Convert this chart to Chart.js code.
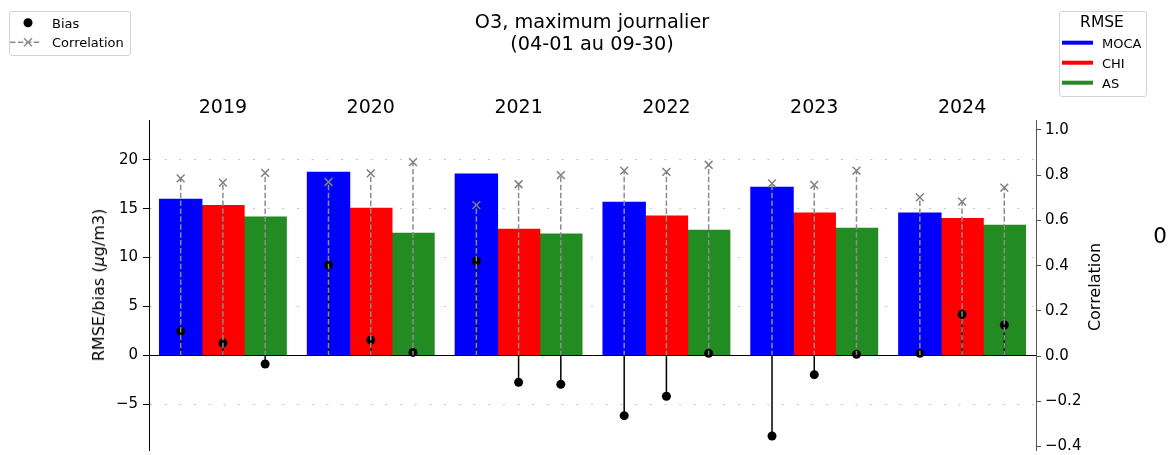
<!DOCTYPE html>
<html>
<head>
<meta charset="utf-8">
<script src="https://cdn.jsdelivr.net/npm/chart.js@4.4.1/dist/chart.umd.min.js"></script>
<style>
  body { margin: 0; background: #fff; }
  #wrap { position: relative; width: 1175px; height: 455px; font-family: 'DejaVu Sans', sans-serif; color: #000; overflow: hidden; }
  #c { position: absolute; left: 0; top: 0; }
  .t { position: absolute; white-space: nowrap; line-height: 1; transform: translate(-50%, -50%); }
  .l { position: absolute; white-space: nowrap; line-height: 1; transform: translateY(-50%); }
  .rot { position: absolute; white-space: nowrap; line-height: 1; transform: translate(-50%, -50%) rotate(-90deg); }
  .box { position: absolute; border: 1px solid #d3d3d3; border-radius: 3px; background: rgba(255,255,255,0.8); box-sizing: border-box; }
  svg { position: absolute; overflow: visible; }
</style>
</head>
<body>
<div id="wrap">
  <canvas id="c" width="1175" height="455"></canvas>

  <!-- title -->
  <div class="t" style="left:592px;top:22px;font-size:19.3px;">O3, maximum journalier</div>
  <div class="t" style="left:592px;top:44px;font-size:19.3px;">(04-01 au 09-30)</div>

  <!-- axis titles -->
  <div class="rot" style="left:99px;top:285px;font-size:16px;">RMSE/bias (<i>μ</i>g/m3)</div>
  <div class="rot" style="left:1095px;top:287px;font-size:16px;">Correlation</div>

  <!-- marker legend -->
  <div class="box" style="left:9px;top:11px;width:122px;height:45px;"></div>
  <svg width="1" height="1" style="left:0;top:0;">
    <circle cx="28" cy="22.7" r="4.5" fill="#000"/>
    <line x1="10" y1="42.3" x2="41" y2="42.3" stroke="#8c8c8c" stroke-width="1.5" stroke-dasharray="5.5 2.4"/>
    <path d="M24 38.3 L32 46.3 M24 46.3 L32 38.3" stroke="#8c8c8c" stroke-width="1.5"/>
  </svg>
  <div class="l" style="left:52px;top:22.7px;font-size:13px;">Bias</div>
  <div class="l" style="left:52px;top:42.3px;font-size:13px;">Correlation</div>

  <!-- RMSE legend -->
  <div class="box" style="left:1059px;top:11px;width:88px;height:86px;"></div>
  <div class="t" style="left:1102px;top:22.7px;font-size:15.5px;">RMSE</div>
  <svg width="1" height="1" style="left:0;top:0;">
    <line x1="1062" y1="42.7" x2="1093" y2="42.7" stroke="#0000ff" stroke-width="4"/>
    <line x1="1062" y1="62.7" x2="1093" y2="62.7" stroke="#ff0000" stroke-width="4"/>
    <line x1="1062" y1="82.7" x2="1093" y2="82.7" stroke="#228b22" stroke-width="4"/>
  </svg>
  <div class="l" style="left:1102px;top:42.7px;font-size:13px;">MOCA</div>
  <div class="l" style="left:1102px;top:62.7px;font-size:13px;">CHI</div>
  <div class="l" style="left:1102px;top:82.7px;font-size:13px;">AS</div>

  <div class="t" style="left:1160px;top:236px;font-size:21.5px;">0</div>
</div>

<script>
// Years (one group of bars per year)
const years = ['2019', '2020', '2021', '2022', '2023', '2024'];

// RMSE (µg/m3) per model
const rmseMOCA = [15.95, 18.71, 18.54, 15.64, 17.18, 14.55];
const rmseCHI  = [15.30, 15.03, 12.88, 14.24, 14.55, 13.97];
const rmseAS   = [14.14, 12.47, 12.40, 12.78, 12.98, 13.29];

// Bias (µg/m3) per model
const biasMOCA = [2.48, 9.23, 9.64, -6.17, -8.25, 0.20];
const biasCHI  = [1.26, 1.56, -2.76, -4.19, -1.98, 4.19];
const biasAS   = [-0.89, 0.30, -2.97, 0.20, 0.10, 3.10];

// Correlation per model
const corrMOCA = [0.786, 0.770, 0.668, 0.820, 0.764, 0.702];
const corrCHI  = [0.767, 0.808, 0.760, 0.815, 0.757, 0.683];
const corrAS   = [0.810, 0.858, 0.800, 0.846, 0.820, 0.745];

// Axis ticks
const leftTicks  = [-5, 0, 5, 10, 15, 20];
const rightTicks = [-0.4, -0.2, 0.0, 0.2, 0.4, 0.6, 0.8, 1.0];

const FONT = "'DejaVu Sans', sans-serif";
const CAT_PCT = 0.857;               // share of each year slot taken by its three bars
const groupOffsets = [-1, 0, 1].map(k => k * CAT_PCT / 3);  // bar centres relative to the year

// Bars sit on the year index of the shared x scale
const barPoints = vals => vals.map((v, i) => ({ x: i, y: v }));

// Lollipop stems: (x,0) -> (x,value), then a gap before the next stem
function stems(seriesList) {
  const pts = [];
  seriesList.forEach((vals, k) => {
    vals.forEach((v, i) => {
      const x = i + groupOffsets[k];
      pts.push({ x, y: 0 });
      pts.push({ x, y: v, tip: true });
      pts.push({ x, y: null });
    });
  });
  return pts;
}

const minus = v => (v < 0 ? '\u2212' : '');

// vertical axes: no extra room reserved for the end tick labels
const noEndPadding = s => { s.paddingTop = 0; s.paddingBottom = 0; };

const zeroLine = {
  id: 'zeroLine',
  afterDatasetsDraw(chart) {
    const { ctx, chartArea, scales } = chart;
    const py = Math.round(scales.y.getPixelForValue(0)) + 0.5;
    ctx.save();
    ctx.strokeStyle = '#000';
    ctx.lineWidth = 1;
    ctx.beginPath();
    ctx.moveTo(chartArea.left, py);
    ctx.lineTo(chartArea.right, py);
    ctx.stroke();
    ctx.restore();
  }
};

const barCommon = {
  yAxisID: 'y', xAxisID: 'x', categoryPercentage: CAT_PCT, barPercentage: 1.0,
  borderWidth: 0, inflateAmount: 0.6, order: 3
};

new Chart(document.getElementById('c'), {
  data: {
    datasets: [
      { type: 'bar', label: 'MOCA', data: barPoints(rmseMOCA), backgroundColor: '#0000ff', ...barCommon },
      { type: 'bar', label: 'CHI',  data: barPoints(rmseCHI),  backgroundColor: '#ff0000', ...barCommon },
      { type: 'bar', label: 'AS',   data: barPoints(rmseAS),   backgroundColor: '#228b22', ...barCommon },
      {
        type: 'line', label: 'Bias', xAxisID: 'x', yAxisID: 'y', order: 2,
        data: stems([biasMOCA, biasCHI, biasAS]),
        borderColor: '#000', borderWidth: 1.5, spanGaps: false,
        pointRadius: c => (c.raw && c.raw.tip ? 4.5 : 0),
        pointBackgroundColor: '#000', pointBorderColor: '#000', pointBorderWidth: 0,
        pointHoverRadius: 0
      },
      {
        type: 'line', label: 'Correlation', xAxisID: 'x', yAxisID: 'y2', order: 1,
        data: stems([corrMOCA, corrCHI, corrAS]),
        borderColor: '#8c8c8c', borderWidth: 1.5, borderDash: [5.5, 2.4], spanGaps: false,
        pointStyle: 'crossRot',
        pointRadius: c => (c.raw && c.raw.tip ? 5.5 : 0),
        pointBorderColor: '#808080', pointBorderWidth: 1.5,
        pointHoverRadius: 0
      }
    ]
  },
  options: {
    indexAxis: 'x',
    responsive: false,
    animation: false,
    devicePixelRatio: 1,
    layout: { padding: { left: 0, right: 0, top: 0, bottom: 5 } },
    plugins: { legend: { display: false }, tooltip: { enabled: false }, title: { display: false } },
    events: [],
    scales: {
      x: {
        type: 'linear', position: 'top', min: -0.5, max: 5.5, offset: false,
        afterBuildTicks: s => { s.ticks = years.map((_, i) => ({ value: i })); },
        grid: { display: false, drawTicks: false },
        border: { display: false },
        ticks: { font: { family: FONT, size: 19 }, color: '#000', padding: 1, maxRotation: 0, autoSkip: false,
                 callback: v => years[v] },
        afterFit: s => { s.height = 120; }
      },
      y: {
        type: 'linear', position: 'left', min: -9.68, max: 24.06, z: 1,
        afterBuildTicks: s => { s.ticks = leftTicks.map(v => ({ value: v })); },
        ticks: { font: { family: FONT, size: 15 }, color: '#000', padding: 5,
                 callback: v => minus(v) + Math.abs(v) },
        grid: { color: '#c8c8c8', lineWidth: 1, drawTicks: true, tickLength: 6, tickColor: '#000', tickWidth: 1 },
        border: { display: true, color: '#000', width: 1, dash: [2, 12.7] },
        afterFit: s => { s.width = 149; noEndPadding(s); }
      },
      y2: {
        type: 'linear', position: 'right', min: -0.415, max: 1.044,
        afterBuildTicks: s => { s.ticks = rightTicks.map(v => ({ value: v })); },
        ticks: { font: { family: FONT, size: 15 }, color: '#000', padding: 4,
                 callback: v => minus(v) + Math.abs(v).toFixed(1) },
        grid: { drawOnChartArea: false, drawTicks: true, tickLength: 5, tickColor: '#555', tickWidth: 1 },
        border: { display: true, color: '#555', width: 1 },
        afterFit: s => { s.width = 139; noEndPadding(s); }
      }
    }
  },
  plugins: [zeroLine]
});
</script>
</body>
</html>
